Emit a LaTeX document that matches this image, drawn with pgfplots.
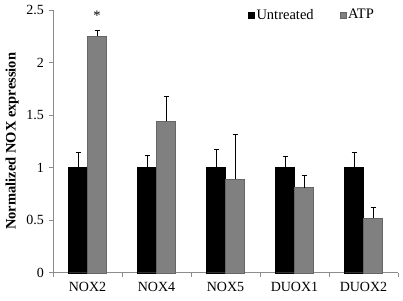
\documentclass[border=0pt]{standalone}
\usepackage{pgfplots}
\pgfplotsset{compat=1.18}
\usepackage{fontspec}
\setmainfont{Liberation Serif}
\begin{document}
\fontsize{14.5}{17}\selectfont
\begin{tikzpicture}[x=1pt,y=1pt]
\path[use as bounding box] (0,0) rectangle (403,300);
\begin{axis}[
  at={(53pt,27.3pt)}, anchor=south west,
  scale only axis, width=345pt, height=262.7pt,
  xmin=-0.5, xmax=4.5, ymin=0, ymax=2.5,
  ybar=0pt, bar width=19pt,
  axis x line*=bottom, axis y line*=left,
  axis line style={-, draw=black!45, line width=0.8pt},
  xtick={0,1,2,3,4},
  xticklabels={NOX2,NOX4,NOX5,DUOX1,DUOX2},
  minor xtick={-0.5,0.5,1.5,2.5,3.5,4.5},
  major x tick style={draw=none},
  minor tick length=4pt,
  major tick length=4pt,
  tick align=outside,
  tick style={draw=black!45, line width=0.8pt},
  ytick={0,0.5,1,1.5,2,2.5},
  yticklabels={0,0.5,1,1.5,2,2.5},
  /pgf/number format/assume math mode=true,
  ticklabel style={font=\fontsize{14}{17}\selectfont},
  ylabel={\textbf{Normalized NOX expression}},
  ylabel style={font=\fontsize{14.5}{17}\selectfont, xshift=0pt, yshift=-2pt},
  legend style={draw=none, fill=none, at={(0.565,0.98)}, anchor=west, inner sep=0pt,
    font=\fontsize{14.5}{17}\selectfont, /tikz/every even column/.append style={column sep=24pt}},
  legend columns=2,
  legend cell align=left,
  legend image code/.code={\fill[#1] (0pt,-3pt) rectangle (6pt,3pt);},
  clip=false,
]
\addplot[fill=black, draw=black, error bars/.cd, y dir=plus, y explicit,
  error bar style={black, line width=0.9pt}, error mark options={rotate=90, mark size=2.5pt, black, line width=0.9pt}]
  coordinates {(0,1.0) +- (0,0.14) (1,1.0) +- (0,0.12) (2,1.0) +- (0,0.17) (3,1.0) +- (0,0.11) (4,1.0) +- (0,0.14)};
\addplot[fill=black!50, draw=black!60, error bars/.cd, y dir=plus, y explicit,
  error bar style={black, line width=0.9pt}, error mark options={rotate=90, mark size=2.5pt, black, line width=0.9pt}]
  coordinates {(0,2.25) +- (0,0.06) (1,1.44) +- (0,0.24) (2,0.89) +- (0,0.43) (3,0.81) +- (0,0.12) (4,0.52) +- (0,0.10)};
\legend{Untreated,ATP}
\node[font=\fontsize{14.5}{17}\selectfont] at (axis cs:0.138,2.45) {*};
\end{axis}
\end{tikzpicture}
\end{document}
